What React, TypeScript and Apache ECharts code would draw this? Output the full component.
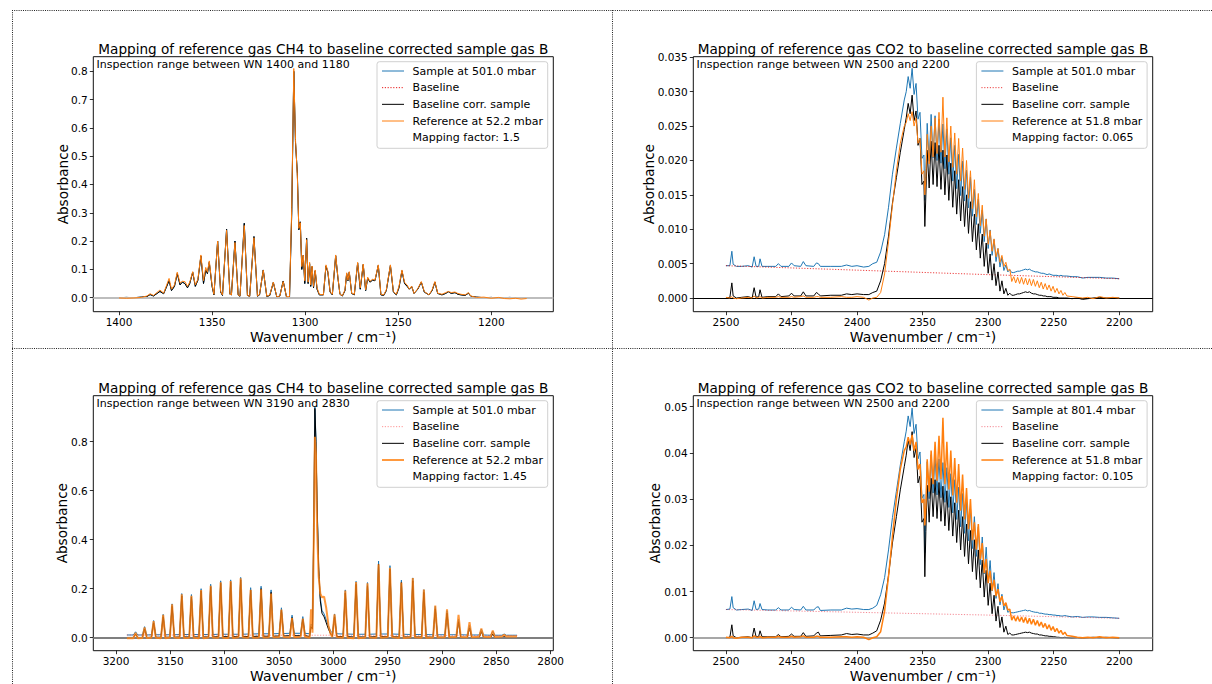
import React, { useEffect, useRef } from "react";
import * as echarts from "echarts";

// ---------------- Texts ----------------
const titleCH4 = "Mapping of reference gas CH4 to baseline corrected sample gas B";
const titleCO2 = "Mapping of reference gas CO2 to baseline corrected sample gas B";
const notes = [
  "Inspection range between WN 1400 and 1180",
  "Inspection range between WN 2500 and 2200",
  "Inspection range between WN 3190 and 2830",
  "Inspection range between WN 2500 and 2200",
];
const legends = [
  ["Sample at 501.0 mbar", "Baseline", "Baseline corr. sample", "Reference at 52.2 mbar", "Mapping factor: 1.5"],
  ["Sample at 501.0 mbar", "Baseline", "Baseline corr. sample", "Reference at 51.8 mbar", "Mapping factor: 0.065"],
  ["Sample at 501.0 mbar", "Baseline", "Baseline corr. sample", "Reference at 52.2 mbar", "Mapping factor: 1.45"],
  ["Sample at 801.4 mbar", "Baseline", "Baseline corr. sample", "Reference at 51.8 mbar", "Mapping factor: 0.105"],
];
const xName = "Wavenumber / cm\u207B\u00B9)";
const yName = "Absorbance";

// ---------------- Tick values ----------------
const p1XTicks = [1400, 1350, 1300, 1250, 1200];
const p1YTicks = [0, 0.1, 0.2, 0.3, 0.4, 0.5, 0.6, 0.7, 0.8];
const co2XTicks = [2500, 2450, 2400, 2350, 2300, 2250, 2200];
const p2YTicks = [0, 0.005, 0.01, 0.015, 0.02, 0.025, 0.03, 0.035];
const p3XTicks = [3200, 3150, 3100, 3050, 3000, 2950, 2900, 2850, 2800];
const p3YTicks = [0, 0.2, 0.4, 0.6, 0.8];
const p4YTicks = [0, 0.01, 0.02, 0.03, 0.04, 0.05];

// ---------------- Panel 1 : CH4, 1400-1180 ----------------
const p1Wn = [
  1400, 1396, 1392, 1388, 1385, 1383.3, 1381.5, 1378, 1376, 1373.1,
  1371.8, 1370.2, 1368.7, 1367.2, 1366, 1364.6, 1363.2, 1362, 1360.4, 1359,
  1357.6, 1356, 1354.6, 1353.4, 1352.5, 1351.5, 1350, 1349, 1347, 1345.4,
  1344.4, 1342.2, 1340.4, 1339.6, 1337.7, 1336, 1335, 1332.7, 1331, 1329.8,
  1327.5, 1325.6, 1324.5, 1322.5, 1320.6, 1319, 1317.1, 1315.2, 1313.6, 1311.8,
  1310, 1308.4, 1307.2, 1306.1, 1305.2, 1304.2, 1303.4, 1302.6, 1301.8, 1301,
  1300.2, 1299.2, 1298.4, 1297.6, 1297, 1296.3, 1295.5, 1294.6, 1293.6, 1292.4,
  1290.2, 1288.8, 1287.8, 1286.6, 1285.4, 1283.6, 1282.4, 1281.3, 1280, 1278.6,
  1277.7, 1277, 1276.3, 1275, 1273.6, 1271.8, 1270.4, 1268.8, 1267.5, 1266.4,
  1265.2, 1263.8, 1262.5, 1260.7, 1259.3, 1257.8, 1256.4, 1254.2, 1252.6, 1251,
  1249.6, 1248, 1246.6, 1245.2, 1244, 1242.8, 1241.5, 1239.5, 1237.6, 1236,
  1233.5, 1231.8, 1230.3, 1228.8, 1226.5, 1224.5, 1223.1, 1221.5, 1219.5, 1218,
  1216.3, 1214, 1212.3, 1211, 1208, 1204, 1200, 1196, 1193, 1190,
  1187, 1184, 1181,
];
const p1Corr = [
  0.000, 0.001, 0.000, 0.002, 0.004, 0.011, 0.006, 0.022, 0.014, 0.060,
  0.025, 0.040, 0.085, 0.045, 0.055, 0.050, 0.035, 0.050, 0.090, 0.040,
  0.062, 0.147, 0.050, 0.098, 0.085, 0.125, 0.040, 0.010, 0.200, 0.020,
  0.008, 0.242, 0.012, 0.010, 0.200, 0.010, 0.005, 0.263, 0.008, 0.005,
  0.216, 0.005, 0.010, 0.098, 0.004, 0.008, 0.054, 0.002, 0.006, 0.059,
  0.002, 0.000, 0.300, 0.800, 0.550, 0.440, 0.240, 0.268, 0.100, 0.150,
  0.050, 0.210, 0.050, 0.120, 0.040, 0.110, 0.035, 0.095, 0.030, 0.010,
  0.010, 0.112, 0.090, 0.020, 0.010, 0.148, 0.070, 0.012, 0.006, 0.025,
  0.085, 0.060, 0.090, 0.015, 0.010, 0.122, 0.030, 0.117, 0.025, 0.070,
  0.055, 0.062, 0.060, 0.114, 0.010, 0.008, 0.025, 0.114, 0.020, 0.010,
  0.035, 0.095, 0.050, 0.040, 0.030, 0.040, 0.015, 0.030, 0.055, 0.020,
  0.010, 0.025, 0.055, 0.015, 0.010, 0.015, 0.021, 0.015, 0.018, 0.012,
  0.010, 0.008, 0.016, 0.005, 0.002, 0.000, 0.001, -0.001, 0.000, 0.001,
  -0.001, 0.000, -0.001,
];
const p1Ref = [
  -0.001, -0.002, -0.001, 0.001, 0.006, 0.014, 0.008, 0.027, 0.016, 0.068,
  0.030, 0.045, 0.090, 0.052, 0.058, 0.057, 0.040, 0.055, 0.092, 0.045,
  0.066, 0.151, 0.060, 0.107, 0.090, 0.130, 0.045, 0.012, 0.200, 0.022,
  0.010, 0.238, 0.012, 0.010, 0.195, 0.010, 0.006, 0.255, 0.008, 0.005,
  0.212, 0.006, 0.012, 0.097, 0.005, 0.010, 0.055, 0.003, 0.006, 0.057,
  0.003, 0.004, 0.320, 0.810, 0.560, 0.430, 0.245, 0.265, 0.110, 0.150,
  0.060, 0.205, 0.055, 0.125, 0.045, 0.112, 0.040, 0.098, 0.035, 0.012,
  0.010, 0.116, 0.094, 0.022, 0.012, 0.151, 0.072, 0.012, 0.007, 0.028,
  0.088, 0.062, 0.092, 0.016, 0.012, 0.125, 0.035, 0.119, 0.028, 0.072,
  0.058, 0.065, 0.062, 0.116, 0.012, 0.010, 0.028, 0.116, 0.022, 0.012,
  0.040, 0.098, 0.054, 0.045, 0.030, 0.041, 0.015, 0.032, 0.057, 0.022,
  0.010, 0.028, 0.057, 0.016, 0.012, 0.018, 0.022, 0.018, 0.020, 0.015,
  0.012, 0.010, 0.018, 0.006, 0.001, 0.002, -0.002, 0.001, -0.003, -0.004,
  -0.002, -0.005, -0.003,
];
// the raw sample coincides with the corrected trace here (baseline ~ 0)
const p1Sample = p1Corr;
const p1BaseWn = [1400, 1181];
const p1BaseVal = [-0.0015, -0.0015];

// ---------------- Panels 2 & 4 : CO2, 2500-2200 ----------------
const co2Wn = [
  2500, 2497, 2495.5, 2494.5, 2492, 2488, 2483, 2480, 2478.5, 2477,
  2475, 2474, 2472.5, 2468, 2462, 2460, 2458, 2452, 2450, 2448,
  2443, 2441, 2439, 2433, 2431, 2429.5, 2428, 2420, 2412, 2408,
  2404, 2400, 2395, 2391, 2388,
  2385, 2382, 2379, 2376, 2373, 2370, 2367, 2364,
  2362.5, 2361, 2359.5, 2358, 2356.5, 2355, 2353.5, 2352, 2350.5, 2349, 2348.3, 2347.5,
  2346.5, 2345, 2343.5, 2342, 2340.5, 2339, 2337.5, 2336, 2334.5, 2333,
  2331.5, 2330, 2328.5, 2327, 2325.5, 2324, 2322.5, 2321, 2319.5, 2318,
  2316.5, 2315, 2313.5, 2312, 2310.5, 2309, 2307.5, 2306, 2304.5, 2303,
  2301.5, 2300, 2298.5, 2297, 2295.5, 2294, 2292.5, 2291, 2289.5, 2288,
  2286.5, 2285, 2283.5,
  2282, 2280.5, 2279, 2277.5, 2276, 2274.5, 2273, 2271.5, 2270, 2268.5,
  2267, 2265.5, 2264, 2262.5, 2261, 2259.5, 2258, 2256.5, 2255, 2253.5,
  2252, 2250.5, 2249, 2247.5, 2246, 2244.5, 2243, 2241.5, 2240, 2236,
  2232, 2228, 2224, 2220, 2215, 2210, 2205, 2200,
];

const p2Corr = [
  0.0000, 0.0001, 0.0022, 0.0003, 0.0000, 0.0001, 0.0002, 0.0000, 0.0015, 0.0001,
  0.0002, 0.0012, 0.0001, 0.0002, 0.0002, 0.0006, 0.0002, 0.0003, 0.0007, 0.0003,
  0.0003, 0.0009, 0.0003, 0.0003, 0.0008, 0.0006, 0.0003, 0.0004, 0.0004, 0.0006,
  0.0005, 0.0006, 0.0005, 0.0005, 0.0008,
  0.0010, 0.0025, 0.0050, 0.0090, 0.0138, 0.0175, 0.0212, 0.0245,
  0.0262, 0.0283, 0.0268, 0.0295, 0.0258, 0.0272, 0.0222, 0.0232, 0.0165, 0.0170, 0.0104, 0.0150,
  0.0215, 0.0160, 0.0228, 0.0165, 0.0226, 0.0162, 0.0222, 0.0158, 0.0215, 0.0150,
  0.0208, 0.0142, 0.0196, 0.0132, 0.0185, 0.0122, 0.0172, 0.0112, 0.0162, 0.0104,
  0.0150, 0.0094, 0.0140, 0.0082, 0.0122, 0.0070, 0.0108, 0.0058, 0.0093, 0.0046,
  0.0080, 0.0036, 0.0064, 0.0026, 0.0050, 0.0018, 0.0038, 0.0010, 0.0025, 0.0006,
  0.0014, 0.0004, 0.0007,
  0.0004, 0.0004, 0.0005, 0.0006, 0.0006, 0.0007, 0.0008, 0.0009, 0.0008, 0.0009,
  0.0007, 0.0006, 0.0006, 0.0005, 0.0004, 0.0004, 0.0003, 0.0003, 0.0002, 0.0002,
  0.0002, 0.0001, 0.0001, 0.0001, 0.0000, 0.0000, 0.0000, 0.0000, 0.0000, -0.0001,
  0.0000, -0.0002, -0.0001, 0.0000, 0.0001, 0.0000, 0.0000, 0.0000,
];
const p2Ref = [
  0.0001, 0.0000, 0.0002, 0.0000, -0.0001, 0.0000, 0.0001, 0.0000, 0.0003, 0.0000,
  0.0001, 0.0002, 0.0000, 0.0001, 0.0001, 0.0002, 0.0001, 0.0001, 0.0002, 0.0001,
  0.0002, 0.0003, 0.0001, 0.0001, 0.0002, 0.0002, 0.0001, 0.0001, 0.0002, 0.0001,
  0.0001, 0.0002, 0.0001, -0.0003, 0.0000,
  0.0001, 0.0008, 0.0035, 0.0082, 0.0135, 0.0185, 0.0225, 0.0250,
  0.0255, 0.0268, 0.0258, 0.0271, 0.0250, 0.0262, 0.0225, 0.0232, 0.0180, 0.0185, 0.0150, 0.0175,
  0.0238, 0.0195, 0.0250, 0.0205, 0.0262, 0.0210, 0.0270, 0.0212, 0.0292, 0.0205,
  0.0262, 0.0198, 0.0250, 0.0190, 0.0240, 0.0180, 0.0232, 0.0170, 0.0218, 0.0158,
  0.0200, 0.0145, 0.0185, 0.0130, 0.0172, 0.0118, 0.0152, 0.0105, 0.0135, 0.0090,
  0.0115, 0.0078, 0.0098, 0.0068, 0.0086, 0.0060, 0.0072, 0.0052, 0.0062, 0.0046,
  0.0052, 0.0040, 0.0042,
  0.0024, 0.0031, 0.0022, 0.0030, 0.0021, 0.0030, 0.0020, 0.0029, 0.0019, 0.0028,
  0.0018, 0.0027, 0.0017, 0.0025, 0.0015, 0.0023, 0.0013, 0.0021, 0.0012, 0.0019,
  0.0010, 0.0017, 0.0008, 0.0014, 0.0006, 0.0011, 0.0004, 0.0008, 0.0003, 0.0002,
  0.0001, 0.0000, 0.0001, -0.0001, 0.0002, 0.0000, 0.0001, 0.0000,
];
const p2Sample = [
  0.0047, 0.0047, 0.0068, 0.0049, 0.0046, 0.0046, 0.0047, 0.0045, 0.0060, 0.0046,
  0.0046, 0.0057, 0.0046, 0.0046, 0.0046, 0.0050, 0.0046, 0.0046, 0.0051, 0.0047,
  0.0046, 0.0053, 0.0047, 0.0046, 0.0051, 0.0050, 0.0046, 0.0046, 0.0046, 0.0048,
  0.0046, 0.0047, 0.0045, 0.0046, 0.0050,
  0.0052, 0.0067, 0.0092, 0.0132, 0.0180, 0.0218, 0.0254, 0.0288,
  0.0300, 0.0322, 0.0305, 0.0334, 0.0296, 0.0312, 0.0260, 0.0270, 0.0203, 0.0208, 0.0142, 0.0188,
  0.0254, 0.0199, 0.0267, 0.0204, 0.0265, 0.0200, 0.0260, 0.0196, 0.0253, 0.0188,
  0.0246, 0.0180, 0.0233, 0.0170, 0.0222, 0.0159, 0.0209, 0.0149, 0.0199, 0.0141,
  0.0186, 0.0131, 0.0176, 0.0119, 0.0158, 0.0107, 0.0144, 0.0094, 0.0128, 0.0082,
  0.0115, 0.0072, 0.0099, 0.0062, 0.0085, 0.0053, 0.0072, 0.0045, 0.0059, 0.0040,
  0.0048, 0.0038, 0.0041,
  0.0037, 0.0037, 0.0038, 0.0039, 0.0039, 0.0040, 0.0041, 0.0042, 0.0041, 0.0042,
  0.0040, 0.0039, 0.0038, 0.0038, 0.0037, 0.0036, 0.0036, 0.0035, 0.0034, 0.0035,
  0.0034, 0.0033, 0.0033, 0.0033, 0.0032, 0.0033, 0.0032, 0.0032, 0.0032, 0.0031,
  0.0031, 0.0029, 0.0030, 0.0030, 0.0030, 0.0029, 0.0029, 0.0028,
];
const p2BaseWn = [2500, 2400, 2300, 2200];
const p2BaseVal = [0.0047, 0.00405, 0.0034, 0.0028];

const p4Corr = [
  0.0000, 0.0001, 0.0028, 0.0004, 0.0000, 0.0001, 0.0002, 0.0000, 0.0021, 0.0002,
  0.0003, 0.0015, 0.0002, 0.0002, 0.0002, 0.0007, 0.0002, 0.0003, 0.0008, 0.0003,
  0.0003, 0.0011, 0.0003, 0.0004, 0.0010, 0.0012, 0.0004, 0.0005, 0.0006, 0.0009,
  0.0007, 0.0008, 0.0006, 0.0006, 0.0010,
  0.0015, 0.0038, 0.0075, 0.0135, 0.0205, 0.0262, 0.0320, 0.0370,
  0.0395, 0.0428, 0.0405, 0.0446, 0.0390, 0.0410, 0.0335, 0.0350, 0.0250, 0.0258, 0.0132, 0.0230,
  0.0330, 0.0250, 0.0345, 0.0262, 0.0342, 0.0258, 0.0336, 0.0252, 0.0328, 0.0242,
  0.0318, 0.0232, 0.0305, 0.0220, 0.0292, 0.0206, 0.0276, 0.0190, 0.0262, 0.0176,
  0.0246, 0.0160, 0.0232, 0.0143, 0.0212, 0.0126, 0.0190, 0.0108, 0.0168, 0.0088,
  0.0146, 0.0070, 0.0118, 0.0052, 0.0092, 0.0036, 0.0068, 0.0022, 0.0045, 0.0012,
  0.0025, 0.0007, 0.0010,
  0.0006, 0.0006, 0.0007, 0.0008, 0.0009, 0.0010, 0.0011, 0.0012, 0.0011, 0.0012,
  0.0010, 0.0009, 0.0008, 0.0008, 0.0006, 0.0006, 0.0005, 0.0004, 0.0004, 0.0003,
  0.0003, 0.0002, 0.0002, 0.0001, 0.0001, 0.0000, 0.0000, 0.0001, 0.0000, -0.0001,
  0.0000, -0.0001, 0.0000, 0.0001, 0.0000, 0.0001, 0.0000, -0.0001,
];
const p4Ref = [
  0.0001, 0.0000, 0.0003, 0.0000, -0.0001, 0.0001, 0.0001, 0.0000, 0.0004, 0.0001,
  0.0001, 0.0003, 0.0000, 0.0001, 0.0001, 0.0003, 0.0001, 0.0001, 0.0003, 0.0001,
  0.0002, 0.0004, 0.0001, 0.0001, 0.0003, 0.0003, 0.0001, 0.0001, 0.0002, 0.0002,
  0.0001, 0.0002, 0.0001, -0.0004, 0.0000,
  0.0002, 0.0013, 0.0057, 0.0133, 0.0219, 0.0300, 0.0365, 0.0405,
  0.0413, 0.0434, 0.0418, 0.0439, 0.0405, 0.0424, 0.0364, 0.0376, 0.0292, 0.0300, 0.0243, 0.0283,
  0.0386, 0.0316, 0.0405, 0.0332, 0.0424, 0.0340, 0.0437, 0.0343, 0.0476, 0.0332,
  0.0424, 0.0321, 0.0405, 0.0308, 0.0389, 0.0292, 0.0376, 0.0275, 0.0353, 0.0256,
  0.0324, 0.0235, 0.0300, 0.0211, 0.0250, 0.0191, 0.0246, 0.0170, 0.0205, 0.0140,
  0.0170, 0.0118, 0.0145, 0.0102, 0.0125, 0.0090, 0.0105, 0.0078, 0.0090, 0.0069,
  0.0076, 0.0060, 0.0062,
  0.0038, 0.0047, 0.0036, 0.0046, 0.0035, 0.0045, 0.0033, 0.0044, 0.0031, 0.0042,
  0.0029, 0.0040, 0.0027, 0.0037, 0.0025, 0.0034, 0.0022, 0.0031, 0.0019, 0.0028,
  0.0016, 0.0024, 0.0013, 0.0020, 0.0010, 0.0016, 0.0007, 0.0012, 0.0005, 0.0003,
  0.0001, 0.0000, 0.0001, 0.0000, 0.0002, 0.0000, 0.0001, 0.0000,
];
const p4Sample = [
  0.0061, 0.0062, 0.0089, 0.0065, 0.0060, 0.0061, 0.0062, 0.0059, 0.0080, 0.0061,
  0.0062, 0.0074, 0.0061, 0.0060, 0.0060, 0.0065, 0.0060, 0.0060, 0.0066, 0.0061,
  0.0060, 0.0068, 0.0060, 0.0060, 0.0066, 0.0067, 0.0059, 0.0060, 0.0060, 0.0064,
  0.0062, 0.0063, 0.0061, 0.0061, 0.0064,
  0.0070, 0.0093, 0.0130, 0.0190, 0.0260, 0.0317, 0.0374, 0.0424,
  0.0447, 0.0480, 0.0457, 0.0497, 0.0442, 0.0462, 0.0387, 0.0402, 0.0302, 0.0310, 0.0184, 0.0282,
  0.0381, 0.0301, 0.0396, 0.0313, 0.0393, 0.0309, 0.0387, 0.0303, 0.0379, 0.0293,
  0.0368, 0.0282, 0.0355, 0.0270, 0.0342, 0.0256, 0.0326, 0.0240, 0.0312, 0.0226,
  0.0296, 0.0210, 0.0282, 0.0193, 0.0262, 0.0176, 0.0240, 0.0158, 0.0218, 0.0138,
  0.0196, 0.0119, 0.0167, 0.0101, 0.0141, 0.0085, 0.0117, 0.0071, 0.0094, 0.0060,
  0.0074, 0.0055, 0.0058,
  0.0054, 0.0054, 0.0055, 0.0056, 0.0057, 0.0058, 0.0059, 0.0060, 0.0058, 0.0059,
  0.0057, 0.0056, 0.0055, 0.0055, 0.0053, 0.0053, 0.0052, 0.0051, 0.0051, 0.0050,
  0.0050, 0.0049, 0.0049, 0.0048, 0.0048, 0.0047, 0.0047, 0.0048, 0.0047, 0.0045,
  0.0046, 0.0044, 0.0045, 0.0045, 0.0044, 0.0044, 0.0043, 0.0042,
];
const p4BaseWn = [2500, 2400, 2300, 2200];
const p4BaseVal = [0.0061, 0.0055, 0.0049, 0.0042];

// ---------------- Panel 3 : CH4, 3190-2830 (line list) ----------------
const p3Center = [
  3182, 3173.7, 3165.4, 3156.6, 3148.4, 3139.5, 3130.6, 3121.7, 3112.9, 3103.7,
  3094.5, 3085.3, 3076.1, 3066.5, 3057.3, 3047.8, 3038, 3028.1,
  2998.9, 2989, 2979.1, 2968.6, 2958.4, 2947.9, 2937.4, 2926.9, 2916.7, 2906.2,
  2895.4, 2884.8, 2874.7, 2863.8, 2853.3, 2842.8,
];
const p3RefPeak = [
  0.020, 0.042, 0.068, 0.093, 0.136, 0.177, 0.171, 0.195, 0.212, 0.226,
  0.231, 0.242, 0.195, 0.198, 0.180, 0.115, 0.080, 0.078,
  0.095, 0.192, 0.227, 0.222, 0.300, 0.285, 0.225, 0.244, 0.197, 0.131,
  0.116, 0.093, 0.063, 0.038, 0.029, 0.012,
];
const p3CorrPeak = [
  0.015, 0.035, 0.060, 0.085, 0.128, 0.170, 0.166, 0.190, 0.208, 0.222,
  0.226, 0.236, 0.194, 0.200, 0.185, 0.112, 0.082, 0.075,
  0.085, 0.182, 0.218, 0.212, 0.300, 0.280, 0.225, 0.232, 0.185, 0.118,
  0.100, 0.065, 0.040, 0.025, 0.015, 0.005,
];
const p3SamplePeak = [
  0.024, 0.045, 0.070, 0.095, 0.138, 0.180, 0.176, 0.200, 0.218, 0.232,
  0.236, 0.246, 0.204, 0.210, 0.195, 0.122, 0.092, 0.086,
  0.097, 0.195, 0.230, 0.225, 0.313, 0.294, 0.235, 0.244, 0.196, 0.128,
  0.110, 0.075, 0.050, 0.035, 0.026, 0.015,
];
const p3RefFoot = [
  -0.002, -0.001, 0.000, -0.002, 0.001, -0.001, 0.000, -0.002, 0.001, 0.000,
  -0.001, 0.002, 0.000, 0.001, 0.002, 0.003, 0.002, 0.004,
  0.003, 0.000, -0.002, 0.001, 0.000, 0.003, -0.001, 0.002, 0.000, 0.001,
  0.002, 0.003, 0.002, 0.004, 0.003, 0.005,
];
const p3CorrFoot = [
  0.001, 0.001, 0.002, 0.002, 0.002, 0.003, 0.003, 0.003, 0.003, 0.004,
  0.004, 0.004, 0.005, 0.006, 0.006, 0.007, 0.008, 0.008,
  0.005, 0.004, 0.003, 0.003, 0.004, 0.004, 0.003, 0.003, 0.003, 0.002,
  0.002, 0.002, 0.001, 0.001, 0.000, 0.000,
];
const p3SampleFoot = [
  0.011, 0.011, 0.012, 0.012, 0.012, 0.013, 0.013, 0.013, 0.013, 0.014,
  0.014, 0.014, 0.015, 0.016, 0.016, 0.017, 0.018, 0.018,
  0.016, 0.015, 0.014, 0.014, 0.015, 0.015, 0.014, 0.013, 0.013, 0.012,
  0.012, 0.012, 0.011, 0.011, 0.010, 0.010,
];
// Q-branch and range ends, given point by point
const p3QWn = [3190, 3021.8, 3020.5, 3019.2, 3018, 3017, 3016, 3015, 3013.5, 3012, 3010.5, 3008.5, 3006.5, 3004.5, 3002.5, 3001, 2831];
const p3QCorr = [0.001, 0.005, 0.045, 0.035, 0.45, 0.936, 0.80, 0.55, 0.28, 0.15, 0.10, 0.085, 0.06, 0.035, 0.015, 0.008, 0.000];
const p3QRef = [-0.002, 0.000, 0.116, 0.020, 0.40, 0.82, 0.75, 0.45, 0.25, 0.18, 0.165, 0.167, 0.12, 0.05, 0.015, 0.003, 0.005];
const p3QSample = [0.011, 0.016, 0.056, 0.046, 0.46, 0.945, 0.81, 0.56, 0.29, 0.162, 0.112, 0.097, 0.072, 0.047, 0.027, 0.020, 0.010];
const p3BaseWn = [3190, 2830];
const p3BaseVal = [0.011, 0.009];

// ---------------- helpers ----------------
const FONT = '"DejaVu Sans", "Liberation Sans", sans-serif';
const C_SAMPLE = "#1f77b4";
const C_CORR = "#000000";
const C_REF = "#ff7f0e";

function zip(xs: number[], ys: number[]): number[][] {
  const n = Math.min(xs.length, ys.length);
  const out: number[][] = [];
  for (let i = 0; i < n; i++) out.push([xs[i], ys[i]]);
  return out;
}

function lineList(centers: number[], peaks: number[], feet: number[], hw: number, extraWn: number[], extraVal: number[]) {
  const pts: number[][] = [];
  const n = Math.min(centers.length, peaks.length, feet.length);
  for (let i = 0; i < n; i++) {
    pts.push([centers[i] + hw, feet[i]], [centers[i], peaks[i]], [centers[i] - hw, feet[i]]);
  }
  zip(extraWn, extraVal).forEach((p) => pts.push(p));
  pts.sort((a, b) => b[0] - a[0]);
  return pts;
}

type PanelDef = {
  left: number; top: number; width: number; height: number;
  xMin: number; xMax: number; yMin: number; yMax: number;
  xTicks: number[]; yTicks: number[]; yDigits: number; yNameX: number;
  title: string; note: string; legend: string[];
  sample: number[][]; base: number[][]; corr: number[][]; refd: number[][];
  zeroColor: string; zeroWidth: number; baseColor: string;
  refWidth: number; refOpacity: number;
};

function buildOption() {
  const HW3 = 2;
  const panels: PanelDef[] = [
    {
      left: 93.3, top: 56.7, width: 460, height: 255,
      xMin: 1166.7, xMax: 1413.8, yMin: -0.0495, yMax: 0.8516,
      xTicks: p1XTicks, yTicks: p1YTicks, yDigits: 1, yNameX: 62.7,
      title: titleCH4, note: notes[0], legend: legends[0],
      sample: zip(p1Wn, p1Sample), base: zip(p1BaseWn, p1BaseVal), corr: zip(p1Wn, p1Corr), refd: zip(p1Wn, p1Ref),
      zeroColor: "#bdbdbd", zeroWidth: 2, baseColor: "rgba(230,0,0,0.9)", refWidth: 1, refOpacity: 1,
    },
    {
      left: 693.3, top: 56.7, width: 459.4, height: 255,
      xMin: 2174.5, xMax: 2524.9, yMin: -0.00199, yMax: 0.03509,
      xTicks: co2XTicks, yTicks: p2YTicks, yDigits: 3, yNameX: 649.3,
      title: titleCO2, note: notes[1], legend: legends[1],
      sample: zip(co2Wn, p2Sample), base: zip(p2BaseWn, p2BaseVal), corr: zip(co2Wn, p2Corr), refd: zip(co2Wn, p2Ref),
      zeroColor: "#000000", zeroWidth: 1.2, baseColor: "rgba(230,0,0,0.75)", refWidth: 1, refOpacity: 1,
    },
    {
      left: 93.3, top: 395.7, width: 460, height: 255,
      xMin: 2797.6, xMax: 3220.9, yMin: -0.0531, yMax: 0.9878,
      xTicks: p3XTicks, yTicks: p3YTicks, yDigits: 1, yNameX: 62,
      title: titleCH4, note: notes[2], legend: legends[2],
      sample: lineList(p3Center, p3SamplePeak, p3SampleFoot, HW3, p3QWn, p3QSample),
      base: zip(p3BaseWn, p3BaseVal),
      corr: lineList(p3Center, p3CorrPeak, p3CorrFoot, HW3, p3QWn, p3QCorr),
      refd: lineList(p3Center, p3RefPeak, p3RefFoot, HW3, p3QWn, p3QRef),
      zeroColor: "#7f7f7f", zeroWidth: 1.8, baseColor: "rgba(255,60,60,0.55)", refWidth: 2, refOpacity: 0.8,
    },
    {
      left: 693.3, top: 395.7, width: 459.4, height: 255,
      xMin: 2174.5, xMax: 2524.9, yMin: -0.00281, yMax: 0.05238,
      xTicks: co2XTicks, yTicks: p4YTicks, yDigits: 2, yNameX: 655,
      title: titleCO2, note: notes[3], legend: legends[3],
      sample: zip(co2Wn, p4Sample), base: zip(p4BaseWn, p4BaseVal), corr: zip(co2Wn, p4Corr), refd: zip(co2Wn, p4Ref),
      zeroColor: "#8a8a8a", zeroWidth: 1.5, baseColor: "rgba(235,40,60,0.55)", refWidth: 1.5, refOpacity: 1,
    },
  ];

  const grid: any[] = [];
  const xAxis: any[] = [];
  const yAxis: any[] = [];
  const series: any[] = [];
  const graphic: any[] = [];

  // dotted table borders
  const dotted = (x1: number, y1: number, x2: number, y2: number) => ({
    type: "line", shape: { x1, y1, x2, y2 }, silent: true, z: 100,
    style: { stroke: "#222", lineWidth: 1, lineDash: [1, 1.2] },
  });
  graphic.push(dotted(12, 10.5, 1212, 10.5));
  graphic.push(dotted(12, 348.5, 1212, 348.5));
  graphic.push(dotted(12.5, 10, 12.5, 684));
  graphic.push(dotted(612.5, 10, 612.5, 684));

  const txt = (x: number, y: number, text: string, size: number, align: string, vAlign: string, rotation = 0) => ({
    type: "text", x, y, rotation, silent: true, z: 120,
    style: {
      text, fill: "#000", fontSize: size, fontFamily: FONT,
      align, verticalAlign: vAlign, textAlign: align, textVerticalAlign: vAlign,
    },
  });

  panels.forEach((p, i) => {
    grid.push({
      left: p.left, top: p.top, width: p.width, height: p.height,
      show: true, borderColor: "#111", borderWidth: 1, backgroundColor: "transparent",
      containLabel: false, outerBoundsMode: "none",
    });
    xAxis.push({
      type: "value", gridIndex: i, inverse: true, min: p.xMin, max: p.xMax,
      axisLine: { show: false, onZero: false },
      axisTick: { show: true, inside: false, length: 3.5, customValues: p.xTicks, lineStyle: { color: "#000", width: 0.8 } },
      axisLabel: {
        show: true, customValues: p.xTicks, margin: 5, fontSize: 10.5, color: "#000", fontFamily: FONT,
        formatter: (v: number) => String(Math.round(v)),
      },
      splitLine: { show: false },
    });
    yAxis.push({
      type: "value", gridIndex: i, min: p.yMin, max: p.yMax,
      axisLine: { show: false, onZero: false },
      axisTick: { show: true, inside: false, length: 3.5, customValues: p.yTicks, lineStyle: { color: "#000", width: 0.8 } },
      axisLabel: {
        show: true, customValues: p.yTicks, margin: 5.6, fontSize: 10.5, color: "#000", fontFamily: FONT,
        formatter: (v: number) => v.toFixed(p.yDigits),
      },
      splitLine: { show: false },
    });

    const common = { type: "line", xAxisIndex: i, yAxisIndex: i, showSymbol: false, symbol: "none", silent: true, animation: false, clip: true };
    series.push({
      ...common, name: p.legend[0], data: p.sample, z: 2,
      lineStyle: { color: C_SAMPLE, width: 1 },
      markLine: {
        silent: true, symbol: ["none", "none"], label: { show: false }, animation: false,
        lineStyle: { color: p.zeroColor, width: p.zeroWidth, type: "solid" },
        data: [{ yAxis: 0 }],
      },
    });
    series.push({ ...common, name: p.legend[1], data: p.base, z: 3, lineStyle: { color: p.baseColor, width: 1, type: [1.2, 1.6] } });
    series.push({ ...common, name: p.legend[2], data: p.corr, z: 4, lineStyle: { color: C_CORR, width: 1 } });
    series.push({ ...common, name: p.legend[3], data: p.refd, z: 5, lineStyle: { color: C_REF, width: p.refWidth, opacity: p.refOpacity } });

    const cx = p.left + p.width / 2;
    graphic.push(txt(cx, p.top - 7.7, p.title, 13.6, "center", "middle"));
    graphic.push(txt(p.left + 3.3, p.top + 8, p.note, 11, "left", "middle"));
    graphic.push(txt(cx, p.top + p.height + 25, xName, 14, "center", "middle"));
    graphic.push(txt(p.yNameX, p.top + p.height / 2, yName, 13.6, "center", "middle", Math.PI / 2));

    // legend box
    const lx = p.left + p.width - 176.3;
    const ly = p.top + 5;
    graphic.push({
      type: "rect", shape: { x: lx, y: ly, width: 170.7, height: 86.6, r: 2.5 }, silent: true, z: 110,
      style: { fill: "rgba(255,255,255,0.8)", stroke: "#d0d0d0", lineWidth: 1 },
    });
    const handles = [
      { color: C_SAMPLE, width: 1, dash: null as any, opacity: 1 },
      { color: p.baseColor, width: 1, dash: [1.2, 1.6], opacity: 1 },
      { color: C_CORR, width: 1, dash: null, opacity: 1 },
      { color: C_REF, width: p.refWidth, dash: null, opacity: p.refOpacity },
    ];
    p.legend.forEach((label, k) => {
      const ry = ly + 9.3 + k * 16.67;
      if (k < 4) {
        const h = handles[k];
        graphic.push({
          type: "line", shape: { x1: lx + 5, y1: ry, x2: lx + 27, y2: ry }, silent: true, z: 115,
          style: { stroke: h.color, lineWidth: h.width, lineDash: h.dash, opacity: h.opacity },
        });
      }
      graphic.push(txt(lx + 35.6, ry, label, 11, "left", "middle"));
    });
  });

  return {
    animation: false,
    backgroundColor: "#ffffff",
    textStyle: { fontFamily: FONT },
    grid, xAxis, yAxis, series,
    graphic: { elements: graphic },
  };
}

export default function App() {
  const ref = useRef<HTMLDivElement>(null);
  useEffect(() => {
    document.body.style.margin = "0";
    if (!ref.current) return;
    const chart = echarts.init(ref.current, undefined, { renderer: "svg", width: 1212, height: 684 });
    chart.setOption(buildOption() as any);
    return () => chart.dispose();
  }, []);
  return (
    <div
      ref={ref}
      style={{ position: "absolute", left: 0, top: 0, width: 1212, height: 684, background: "#fff" }}
    />
  );
}
